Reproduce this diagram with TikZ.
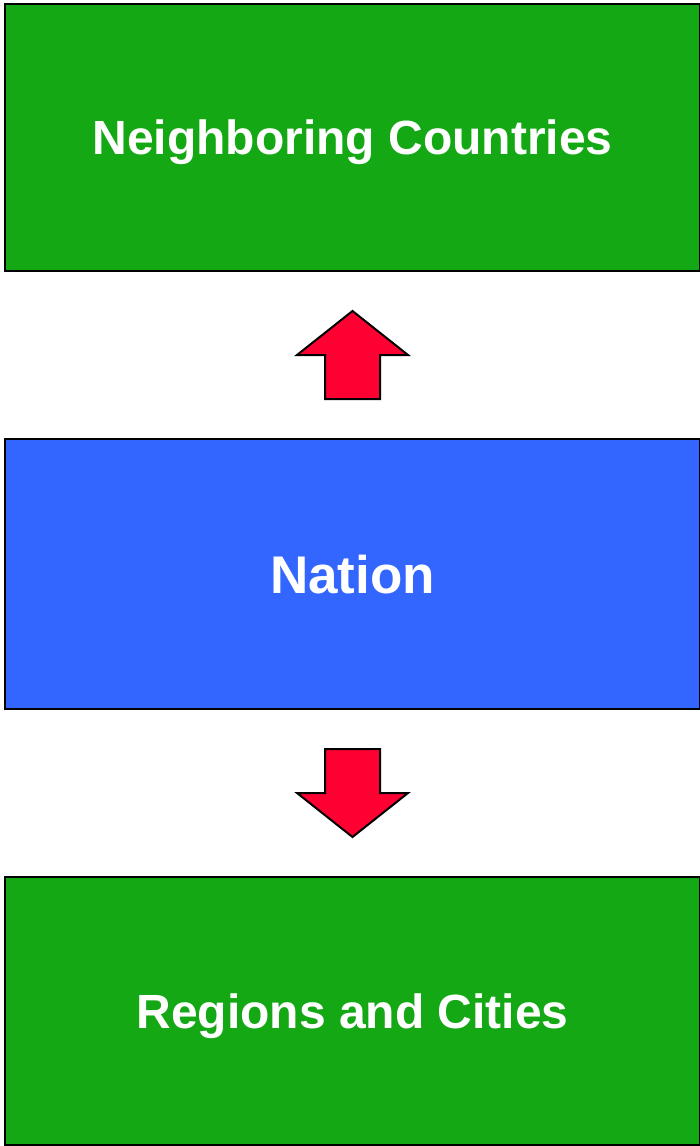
\documentclass[tikz,border=0pt]{standalone}
\usepackage{fontspec}
\setmainfont{Liberation Sans}
\usepackage{tikz}
\usetikzlibrary{calc}
\definecolor{boxgreen}{HTML}{14A814}
\definecolor{boxblue}{HTML}{3366FF}
\definecolor{arrowred}{HTML}{FF0033}
\tikzset{
  level/.style={draw=black, line width=2.5pt, minimum width=695pt, minimum height=267pt,
    inner sep=0pt, outer sep=0pt, text=white, text height=34pt, text depth=0pt,
    font=\fontsize{48}{56}\selectfont\bfseries},
  pics/bigarrow/.style={code={
    \draw[fill=arrowred, line width=2pt, line join=miter]
      (0,-44) -- (55.5,0) -- (27.5,0) -- (27.5,44) -- (-27.5,44) -- (-27.5,0) -- (-55.5,0) -- cycle;
  }}
}

\begin{document}
\begin{tikzpicture}[x=1pt, y=-1pt]
\useasboundingbox (0,0) rectangle (700,1146);
\node[level, fill=boxgreen] (neighbors) at (352.5,137.5) {Neighboring Countries};
\node[level, fill=boxblue, minimum height=270pt, text height=38pt,
  font=\fontsize{53}{60}\selectfont\bfseries] (nation) at (352.5,574) {Nation};
\node[level, fill=boxgreen, minimum height=268pt] (regions) at (352.5,1011) {Regions and Cities};
\pic at ($(neighbors.south)!0.5!(nation.north)$) {bigarrow};
\pic[rotate=180] at ($(nation.south)!0.5!(regions.north)$) {bigarrow};
\end{tikzpicture}
\end{document}
